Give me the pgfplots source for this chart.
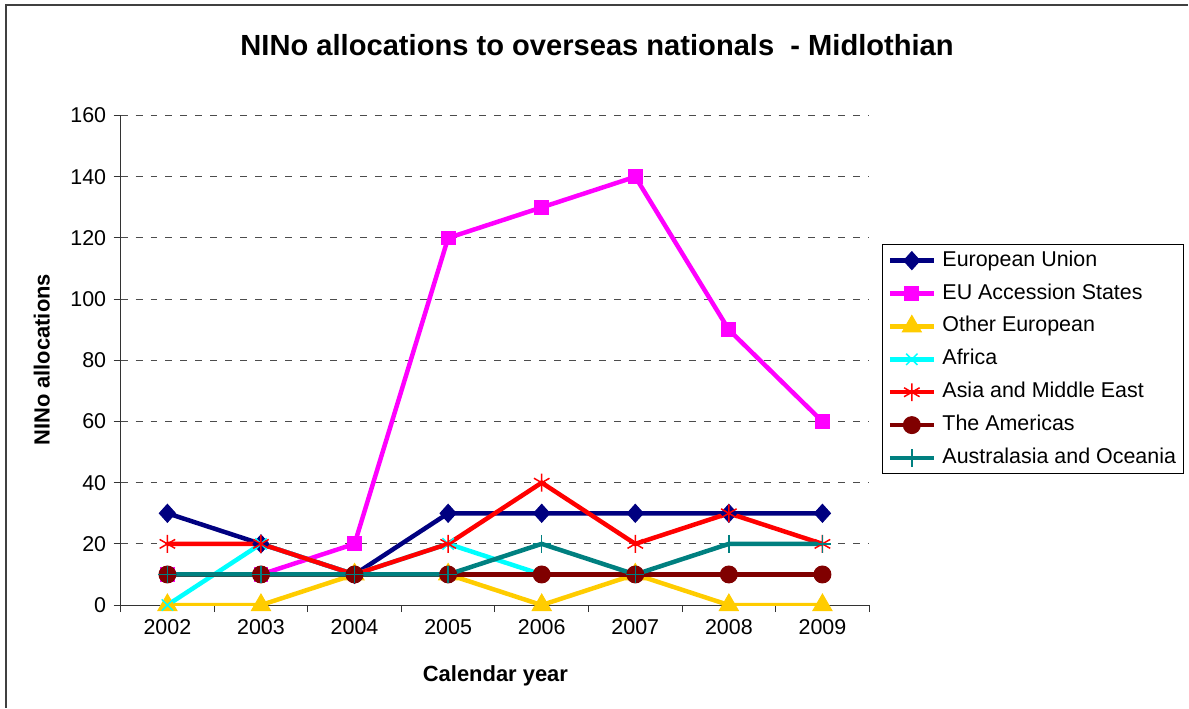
\documentclass[border=0pt]{standalone}
\usepackage{fontspec}
\setmainfont{Liberation Sans}
\usepackage{pgfplots}
\pgfplotsset{compat=1.18}

\definecolor{euNavy}{HTML}{000080}
\definecolor{accMag}{HTML}{FF00FF}
\definecolor{othGold}{HTML}{FFCC00}
\definecolor{afrCyan}{HTML}{00FFFF}
\definecolor{asiaRed}{HTML}{FF0000}
\definecolor{amMaroon}{HTML}{800000}
\definecolor{ausTeal}{HTML}{008080}

\begin{document}
\begin{tikzpicture}
% page frame (1 pt = 1 px of the reference)
\path (0pt,0pt) rectangle (1189pt,708pt);
\draw[line width=1.6pt, black!75] (6pt,-2pt) -- (6pt,703pt) -- (1192pt,703pt);

\node[font=\fontsize{29.2}{34}\selectfont\bfseries] at (599pt,663pt)
  {NINo allocations to overseas nationals\ \ - Midlothian};

\begin{axis}[
    at={(121pt,101pt)}, anchor=south west,
    scale only axis, width=751pt, height=491pt,
    xmin=-0.5, xmax=7.5, ymin=0, ymax=160,
    axis x line*=bottom, axis y line*=left,
    axis line style={line width=1pt, black!80, -},
    xtick={0,...,7},
    xticklabels={2002,2003,2004,2005,2006,2007,2008,2009},
    minor xtick={-0.5,0.5,...,7.5},
    ytick={0,20,...,160},
    /pgf/number format/assume math mode=true,
    tick align=outside,
    major x tick style={draw=none},
    major tick length=7pt, minor tick length=7pt,
    tick style={line width=1pt, black!80},
    ymajorgrids,
    grid style={black!70, dash pattern=on 7pt off 8pt, line width=1pt},
    tick label style={font=\fontsize{21.5}{25}\selectfont},
    yticklabel style={xshift=-4pt},
    xticklabel style={yshift=-4pt},
    xlabel={Calendar year},
    ylabel={NINo allocations},
    label style={font=\fontsize{22}{26}\selectfont\bfseries},
    xlabel style={at={(axis description cs:0.5007,-0.1446)}, anchor=center},
    ylabel style={at={(axis description cs:-0.1052,0.501)}, anchor=center},
    legend cell align=left,
    legend style={
        at={(1.0173,0.7373)}, anchor=north west,
        draw=black, line width=1pt,
        font=\fontsize{21.5}{25}\selectfont,
        inner xsep=5pt, inner ysep=3pt,
        row sep=7pt,
        nodes={text height=16pt, text depth=5pt, inner sep=2.5pt},
        /tikz/every odd column/.append style={column sep=4pt},
    },
    legend image code/.code={
        \draw[mark repeat=2, mark phase=2, #1]
            plot coordinates {(0pt,0pt) (22pt,0pt) (44pt,0pt)};
    },
]

\addplot[color=euNavy, line width=4.5pt, mark=diamond*, mark size=9pt,
    mark options={solid, fill=euNavy, line width=1pt, xscale=1.2}]
    coordinates {(0,30) (1,20) (2,10) (3,30) (4,30) (5,30) (6,30) (7,30)};
\addlegendentry{European Union}

\addplot[color=accMag, line width=4.5pt, mark=square*, mark size=7pt,
    mark options={solid, fill=accMag, line width=1pt}]
    coordinates {(0,10) (1,10) (2,20) (3,120) (4,130) (5,140) (6,90) (7,60)};
\addlegendentry{EU Accession States}

\addplot[color=othGold, line width=4.5pt, mark=triangle*, mark size=11pt,
    mark options={solid, fill=othGold, line width=1pt}]
    coordinates {(0,0) (1,0) (2,10) (3,10) (4,0) (5,10) (6,0) (7,0)};
\addlegendentry{Other European}

\addplot[color=afrCyan, line width=4.5pt, mark=x, mark size=8pt,
    mark options={solid, line width=1.5pt}]
    coordinates {(0,0) (1,20) (2,10) (3,20) (4,10) (5,10) (6,10) (7,10)};
\addlegendentry{Africa}

\addplot[color=asiaRed, line width=4.5pt, mark=asterisk, mark size=9pt,
    mark options={solid, line width=1.5pt}]
    coordinates {(0,20) (1,20) (2,10) (3,20) (4,40) (5,20) (6,30) (7,20)};
\addlegendentry{Asia and Middle East}

\addplot[color=amMaroon, line width=4.5pt, mark=*, mark size=8.5pt,
    mark options={solid, fill=amMaroon, line width=1pt}]
    coordinates {(0,10) (1,10) (2,10) (3,10) (4,10) (5,10) (6,10) (7,10)};
\addlegendentry{The Americas}

\addplot[color=ausTeal, line width=4.5pt, mark=+, mark size=9pt,
    mark options={solid, line width=1.5pt}]
    coordinates {(0,10) (1,10) (2,10) (3,10) (4,20) (5,10) (6,20) (7,20)};
\addlegendentry{Australasia and Oceania}

\end{axis}
\end{tikzpicture}
\end{document}
